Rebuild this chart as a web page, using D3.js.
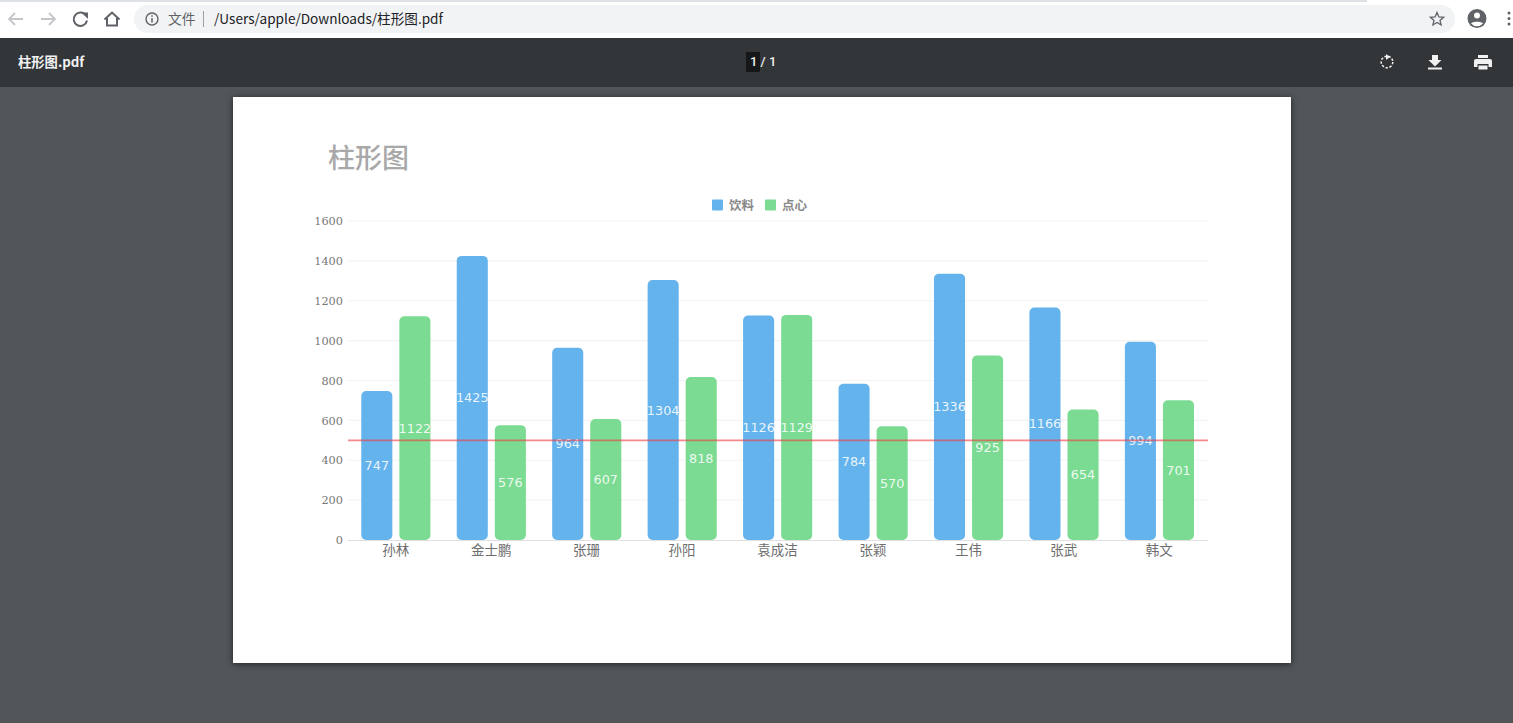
<!DOCTYPE html>
<html>
<head>
<meta charset="utf-8">
<script src="https://d3js.org/d3.v7.min.js"></script>
<style>
  html, body { margin: 0; padding: 0; background: #525659; overflow: hidden; }
  svg { display: block; }
  text { font-family: "Noto Sans CJK SC", "Noto Sans", sans-serif; }
</style>
</head>
<body>
<svg id="page" width="1513" height="723"></svg>
<script>
const names = ['孙林', '金士鹏', '张珊', '孙阳', '袁成洁', '张颖', '王伟', '张武', '韩文'];
const drinks = [747, 1425, 964, 1304, 1126, 784, 1336, 1166, 994];
const snacks = [1122, 576, 607, 818, 1129, 570, 925, 654, 701];
const seriesNames = ['饮料', '点心'];
const seriesColors = ['#65b3ec', '#7bdb92'];
const yTicks = [0, 200, 400, 600, 800, 1000, 1200, 1400, 1600];
const threshold = 500;

const svg = d3.select('#page');

// browser chrome
svg.append('rect').attr('width', 1513).attr('height', 38).attr('fill', '#fff');
svg.append('rect').attr('width', 1367).attr('height', 2).attr('fill', '#dee1e6');
svg.append('rect').attr('x', 134).attr('y', 5).attr('width', 1321).attr('height', 28).attr('rx', 14).attr('fill', '#f1f3f4');

const icon = (d, color, w = 1.8) => svg.append('path').attr('d', d)
  .attr('fill', 'none').attr('stroke', color).attr('stroke-width', w);
icon('M23 19H9M15 13l-6 6 6 6', '#c4c6c9');
icon('M41 19h14M49 13l6 6-6 6', '#c4c6c9');
icon('M86 15.5a6.7 6.7 0 1 0 1 5', '#5f6368', 2);
svg.append('path').attr('d', 'M81.5 12.5h6.5v6.5z').attr('fill', '#5f6368');
icon('M104.5 19.5l7.5-7 7.5 7M107 18v7.5h10V18', '#5f6368', 2);
svg.append('circle').attr('cx', 152).attr('cy', 19).attr('r', 6).attr('fill', 'none').attr('stroke', '#5f6368').attr('stroke-width', 1.4);
icon('M152 18v4.5M152 15.2v1.6', '#5f6368', 1.5);
svg.append('text').attr('x', 168).attr('y', 24).attr('font-size', 13.8).attr('fill', '#5f6368').text('文件');
svg.append('rect').attr('x', 203).attr('y', 11).attr('width', 1).attr('height', 16).attr('fill', '#9aa0a6');
svg.append('text').attr('x', 214).attr('y', 24).attr('font-size', 13.6).attr('fill', '#202124').text('/Users/apple/Downloads/柱形图.pdf');
icon('M1437 12.5l1.9 4.4 4.7.4-3.6 3.1 1.1 4.6-4.1-2.5-4.1 2.5 1.1-4.6-3.6-3.1 4.7-.4z', '#5f6368', 1.3);
svg.append('circle').attr('cx', 1477).attr('cy', 18.5).attr('r', 9.5).attr('fill', '#5f6368');
svg.append('circle').attr('cx', 1477).attr('cy', 15.5).attr('r', 3).attr('fill', '#fff');
svg.append('path').attr('d', 'M1471 23.5c1.5-2.5 10.5-2.5 12 0a8 8 0 0 1-12 0z').attr('fill', '#fff');
[13, 18.5, 24].forEach(cy => svg.append('circle').attr('cx', 1509).attr('cy', cy).attr('r', 1.5).attr('fill', '#5f6368'));

// pdf viewer toolbar
svg.append('rect').attr('y', 38).attr('width', 1513).attr('height', 49).attr('fill', '#323639');
svg.append('text').attr('x', 18).attr('y', 67).attr('font-size', 13.3).attr('font-weight', 700).attr('fill', '#f1f1f1').text('柱形图.pdf');
svg.append('rect').attr('x', 746).attr('y', 52).attr('width', 14).attr('height', 20).attr('fill', '#151719');
svg.append('text').attr('x', 750).attr('y', 66).attr('font-size', 13).attr('font-weight', 500).style('font-family', 'Roboto').attr('fill', '#f1f1f1').text('1 / 1');
svg.append('circle').attr('cx', 1387).attr('cy', 62).attr('r', 5.8).attr('fill', 'none').attr('stroke', '#f1f1f1').attr('stroke-width', 1.5).attr('stroke-dasharray', '2.4 1.6');
svg.append('path').attr('d', 'M1386 54l4 3-4 3z').attr('fill', '#f1f1f1');
svg.append('path').attr('d', 'M1432 55h6v5h3.500l-6.500 6.500-6.500-6.500h3.500zM1428 67.500h14v2h-14z').attr('fill', '#f1f1f1');
svg.append('path').attr('d', 'M1478 55h10v3h-10zM1476 59h14a2 2 0 0 1 2 2v6h-3.500v-3h-11v3H1474v-6a2 2 0 0 1 2-2zM1478.500 65.500h9v4h-9z').attr('fill', '#f1f1f1');

// page sheet
svg.append('rect').attr('x', 233).attr('y', 97).attr('width', 1058).attr('height', 566).attr('fill', '#fff')
  .style('filter', 'drop-shadow(0 1px 3px rgba(0,0,0,.6))');

svg.append('text').attr('x', 328).attr('y', 168).attr('font-size', 27).attr('font-weight', 500).attr('fill', '#a8a8a8').text('柱形图');

// chart
const x = d3.scaleBand().domain(names).range([348, 1208]).paddingInner(0).paddingOuter(0.005);
const xSeries = d3.scaleBand().domain(seriesNames).range([12.8, x.bandwidth() - 13.5]).paddingInner(0.184);
const y = d3.scaleLinear().domain([0, 1600]).range([540, 221]);

svg.append('g').selectAll('line').data(yTicks.slice(1)).join('line')
  .attr('x1', 348).attr('x2', 1208)
  .attr('y1', d => y(d)).attr('y2', d => y(d))
  .attr('stroke', '#f3f3f3').attr('stroke-width', 1.2);

const yAxis = svg.append('g').attr('transform', 'translate(348,0)')
  .call(d3.axisLeft(y).tickValues(yTicks).tickFormat(d3.format('d')).tickSize(0).tickPadding(5));
yAxis.select('.domain').remove();
yAxis.selectAll('text').style('font-family', '"DejaVu Serif"').attr('font-size', 11.3).attr('fill', '#777');

const xAxis = svg.append('g').attr('transform', 'translate(-0.500,540)')
  .call(d3.axisBottom(x).tickSize(0).tickPadding(5));
xAxis.select('.domain').attr('stroke', '#e0e0e0');
xAxis.selectAll('text').attr('font-size', 13.5).attr('fill', '#6e6e6e');

[drinks, snacks].forEach((values, s) => {
  const g = svg.append('g');
  const bandX = (i) => x(names[i]) + xSeries(seriesNames[s]);
  g.selectAll('rect').data(values).join('rect')
    .attr('fill', seriesColors[s])
    .attr('x', (d, i) => bandX(i))
    .attr('y', d => y(d))
    .attr('width', xSeries.bandwidth())
    .attr('height', d => y(0) - y(d))
    .attr('rx', 5);
  g.selectAll('text').data(values).join('text')
    .attr('x', (d, i) => bandX(i) + xSeries.bandwidth() / 2)
    .attr('y', d => (y(d) + y(0)) / 2 + 4.5)
    .attr('text-anchor', 'middle')
    .style('font-family', '"DejaVu Sans"')
    .attr('font-size', 12.8)
    .attr('fill', '#fff')
    .attr('fill-opacity', 0.88)
    .text(d => d);
});

svg.append('line')
  .attr('x1', 348).attr('x2', 1208)
  .attr('y1', y(threshold)).attr('y2', y(threshold))
  .attr('stroke', '#f2383f').attr('stroke-opacity', 0.6).attr('stroke-width', 1.7);

// legend
const legendX = d3.scaleOrdinal().domain(seriesNames).range([712, 765]);
const legend = svg.append('g').selectAll('g').data(seriesNames).join('g')
  .attr('transform', d => `translate(${legendX(d)},199.500)`);
legend.append('rect').attr('width', 11).attr('height', 11).attr('rx', 1)
  .attr('fill', (d, i) => seriesColors[i]);
legend.append('text').attr('x', 17).attr('y', 10).attr('font-size', 12.5).attr('font-weight', 700).attr('fill', '#888').text(d => d);
</script>
</body>
</html>
